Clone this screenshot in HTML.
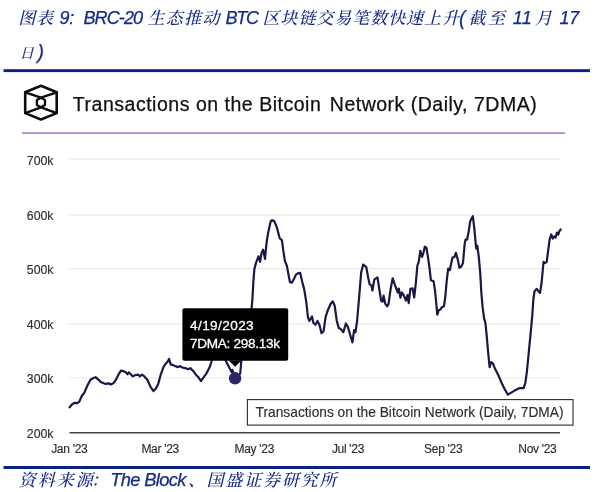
<!DOCTYPE html>
<html lang="zh">
<head>
<meta charset="utf-8">
<title>图表 9</title>
<style>
html,body{margin:0;padding:0;background:#fff;}
body{width:600px;height:492px;position:relative;overflow:hidden;font-family:"Liberation Sans","Noto Serif CJK SC",sans-serif;}
.c,.a{position:absolute;white-space:nowrap;color:#15298a;font-style:italic;height:34px;line-height:34px;}
.c{font-family:"Noto Serif CJK SC","Noto Sans CJK SC",serif;font-size:17.0px;font-weight:500;}
.a{font-family:"Liberation Sans",sans-serif;-webkit-text-stroke:0.25px #15298a;}
.rule{position:absolute;left:4px;width:586px;height:3px;background:#0c1a7c;}
svg{position:absolute;left:0;top:0;}
svg text{font-family:"Liberation Sans",sans-serif;}
</style>
</head>
<body>
<span class="c" style="left:18.2px;top:0px;letter-spacing:0.70px" id="s1">图表</span>
<span class="a" style="left:59.5px;top:0.5px;font-size:18px;letter-spacing:-0.3px" id="s2">9:</span>
<span class="a" style="left:83.5px;top:0.5px;font-size:18px;letter-spacing:-0.9px" id="s3">BRC-20</span>
<span class="c" style="left:147.4px;top:0px;letter-spacing:1.40px" id="s4">生态推动</span>
<span class="a" style="left:225.5px;top:0.5px;font-size:18px;letter-spacing:-1.2px" id="s5">BTC</span>
<span class="c" style="left:262.5px;top:0px;letter-spacing:0.95px" id="s6">区块链交易笔数快速上升</span>
<span class="a" style="left:459px;top:0.5px;font-size:19.5px;letter-spacing:0px" id="s7">(</span>
<span class="c" style="left:468.5px;top:0px;letter-spacing:2.50px" id="s8">截至</span>
<span class="a" style="left:512.7px;top:0.5px;font-size:18px;letter-spacing:0.5px" id="s9">11</span>
<span class="c" style="left:535px;top:0px;letter-spacing:2.00px" id="s10">月</span>
<span class="a" style="left:559.5px;top:0.5px;font-size:18px;letter-spacing:-0.3px" id="s11">17</span>
<span class="c" style="left:19.8px;top:35px;font-size:14px;letter-spacing:0.00px" id="s12">日</span>
<span class="a" style="left:37.5px;top:35.0px;font-size:19.5px;letter-spacing:0px" id="s13">)</span>

<svg width="600" height="492" viewBox="0 0 600 492">
  <rect x="3.5" y="69.2" width="586.5" height="2.9" fill="#0b2283"/>
  <rect x="3.5" y="466" width="586.5" height="3" fill="#0b2283"/>
  <!-- logo -->
  <g fill="none" stroke="#0d0d0d" stroke-width="2.6" stroke-linejoin="round" stroke-linecap="round">
    <polygon points="40.95,85.8 56.7,92.3 56.7,113.1 40.95,119.5 25.2,113.1 25.2,92.3"/>
    <polygon points="40.95,97.7 45,100.1 45,104.9 40.95,107.3 36.9,104.9 36.9,100.1" stroke-width="2.3"/>
    <path d="M25.2,92.3 L40.95,97.7 L56.7,92.3 M25.2,113.1 L40.95,107.3 L56.7,113.1" stroke-width="2.4"/>
  </g>
  <g font-size="19.5" fill="#111" stroke="#111" stroke-width="0.25"><text id="hd" x="72.8" y="110.7" letter-spacing="0.52">Transactions on the Bitcoin</text><text id="hd2" x="329.8" y="110.7" letter-spacing="0.5">Network (Daily, 7DMA)</text></g>
  <rect x="22" y="132.3" width="543" height="1.6" fill="#b377cf"/>
  <!-- grid -->
  <g stroke="#eaeaea" stroke-width="1.2">
    <line x1="69" x2="560" y1="158.8" y2="158.8"/>
    <line x1="69" x2="560" y1="214.9" y2="214.9"/>
    <line x1="69" x2="560" y1="268.6" y2="268.6"/>
    <line x1="69" x2="560" y1="323.9" y2="323.9"/>
    <line x1="69" x2="560" y1="378" y2="378"/>
  </g>
  <line x1="69.5" x2="560" y1="432.7" y2="432.7" stroke="#444" stroke-width="1.4"/>
  <g font-size="12.3" fill="#2e2e2e" stroke="#2e2e2e" stroke-width="0.15" text-anchor="end">
    <text x="53.5" y="165">700k</text>
    <text x="53.5" y="220">600k</text>
    <text x="53.5" y="273.7">500k</text>
    <text x="53.5" y="328.7">400k</text>
    <text x="53.5" y="383">300k</text>
    <text x="53.5" y="437.8">200k</text>
  </g>
  <g font-size="12" fill="#2e2e2e" stroke="#2e2e2e" stroke-width="0.15" text-anchor="middle" letter-spacing="-0.3">
    <text x="69.3" y="452.8">Jan '23</text>
    <text x="160.2" y="452.8">Mar '23</text>
    <text x="254.3" y="452.8">May '23</text>
    <text x="348" y="452.8">Jul '23</text>
    <text x="443.2" y="452.8">Sep '23</text>
    <text x="537.4" y="452.8">Nov '23</text>
  </g>
  <path d="M69.6,407.3 L72.2,404.2 L74.6,402.8 L77.3,403.2 L79.3,401.6 L82.0,395.5 L84.4,392.6 L87.5,385.3 L90.5,379.8 L93.0,378.2 L95.6,377.2 L98.6,379.8 L100.7,381.9 L103.7,383.3 L105.8,383.9 L108.8,383.3 L110.8,384.5 L113.3,383.3 L115.9,379.8 L118.4,374.7 L121.0,370.7 L124.0,371.3 L126.1,372.7 L127.5,374.3 L128.7,372.3 L130.8,374.3 L132.8,376.4 L135.2,375.1 L138.3,374.7 L139.7,376.4 L142.0,374.7 L144.4,376.4 L147.4,379.8 L150.5,386.9 L153.5,391.0 L155.6,389.0 L158.2,383.9 L160.7,374.7 L163.7,366.6 L165.8,363.6 L167.8,361.5 L169.0,358.9 L170.8,364.6 L172.0,364.7 L175.1,366.1 L178.1,367.1 L180.2,366.1 L182.2,367.5 L185.3,368.1 L188.3,369.2 L190.3,368.1 L193.4,371.2 L196.4,375.3 L198.5,377.3 L200.9,381.0 L203.6,377.3 L206.6,373.2 L209.7,367.1 L211.7,361.0 L214.0,352.0 L217.0,345.0 L220.0,349.0 L223.0,354.0 L226.0,361.2 L229.0,367.0 L231.7,372.2 L232.3,369.8 L233.5,373.0 L235.1,378.3 L238.5,376.0 L240.2,373.4 L241.2,361.8 L243.0,350.0 L246.0,338.0 L249.0,322.0 L251.4,310.0 L252.4,299.5 L253.4,281.2 L254.4,269.0 L256.0,262.9 L258.5,256.4 L260.1,261.9 L261.5,253.1 L263.1,249.7 L265.0,258.8 L266.6,242.5 L268.2,232.4 L270.7,221.2 L272.3,220.2 L274.3,221.2 L276.8,227.3 L279.8,238.5 L281.9,240.1 L283.3,250.7 L284.9,260.8 L286.9,265.9 L288.6,275.1 L290.0,282.2 L292.0,282.6 L294.1,278.7 L296.1,274.4 L298.1,273.3 L300.2,272.9 L302.2,281.8 L304.2,289.4 L306.3,302.0 L307.9,316.9 L309.3,321.0 L312.0,316.5 L313.4,323.0 L315.4,324.7 L317.5,321.0 L319.5,325.1 L321.5,333.2 L323.6,331.2 L325.6,316.9 L327.6,310.8 L330.7,303.7 L332.7,301.3 L334.7,305.8 L336.8,321.0 L338.8,328.1 L340.8,329.1 L343.3,332.2 L345.9,323.5 L348.0,327.1 L350.0,334.2 L352.4,342.4 L354.1,330.2 L355.5,332.2 L357.1,321.0 L359.2,296.6 L361.2,272.2 L363.2,264.5 L366.3,267.1 L368.3,278.3 L369.7,284.4 L371.4,285.4 L372.4,290.5 L374.4,279.3 L377.5,277.3 L379.5,290.5 L381.1,300.7 L382.5,301.7 L383.6,295.6 L385.2,303.7 L387.2,306.4 L388.6,303.7 L390.7,288.5 L392.7,278.3 L394.7,284.4 L397.8,292.5 L398.8,288.5 L400.4,297.6 L401.9,292.5 L403.9,295.6 L405.9,300.6 L407.5,295.0 L408.7,303.2 L410.4,288.8 L412.6,288.4 L414.2,297.5 L415.9,282.3 L417.3,266.0 L418.7,261.9 L420.3,250.8 L422.0,256.9 L423.4,252.8 L424.8,246.7 L426.4,247.7 L428.1,257.9 L429.5,268.0 L430.9,280.2 L433.6,281.3 L435.0,290.4 L436.3,304.0 L437.3,314.7 L438.7,310.3 L440.3,309.6 L442.0,307.2 L444.0,306.2 L445.2,297.5 L446.8,280.2 L448.2,268.5 L449.8,270.1 L451.3,263.0 L452.5,257.5 L454.5,256.9 L455.9,252.8 L457.6,258.9 L459.4,267.6 L461.0,267.0 L463.0,263.0 L464.7,243.6 L465.5,239.6 L467.1,239.6 L468.7,231.4 L470.2,221.3 L472.8,216.2 L474.2,227.4 L475.7,243.6 L476.3,248.7 L477.3,245.7 L478.9,257.9 L480.3,274.1 L481.3,292.0 L482.6,307.2 L484.1,318.4 L485.5,323.5 L486.7,335.7 L488.1,352.0 L489.6,367.2 L491.2,362.1 L492.8,363.1 L494.8,368.2 L496.9,372.3 L499.3,377.4 L501.4,382.5 L504.4,388.6 L507.9,394.7 L509.5,393.6 L514.6,390.6 L519.7,388.1 L523.7,388.1 L525.4,382.5 L526.8,372.3 L528.8,352.0 L530.8,331.6 L532.3,315.3 L533.3,300.0 L534.5,291.4 L536.5,288.8 L538.6,291.4 L540.0,292.9 L541.4,284.3 L542.6,272.1 L543.5,261.9 L545.1,263.0 L546.7,261.9 L548.1,250.8 L549.6,239.6 L551.2,234.5 L552.8,238.6 L554.2,236.5 L555.7,237.5 L556.9,232.5 L558.3,234.5 L559.3,231.4 L560.7,229.4" fill="none" stroke="#1b1646" stroke-width="2.2" stroke-linejoin="round" stroke-linecap="round"/>
  <circle cx="235.1" cy="378.3" r="6.2" fill="#2a2563"/>
  <!-- tooltip -->
  <rect x="182.4" y="308.2" width="105.8" height="52.6" rx="2" fill="#000"/>
  <path d="M228.7,360.5 L241.5,360.5 L235.1,366.8 Z" fill="#000"/>
  <text x="190" y="330" font-size="13.6" letter-spacing="0.4" fill="#fff" stroke="#fff" stroke-width="0.3">4/19/2023</text>
  <text x="190" y="347.8" font-size="13.6" letter-spacing="-0.3" fill="#fff" stroke="#fff" stroke-width="0.3">7DMA: 298.13k</text>
  <!-- legend -->
  <rect x="247.4" y="399.6" width="325.6" height="25.5" fill="#fff" stroke="#2a2a2a" stroke-width="1.1"/>
  <text id="lg" x="255.6" y="417" font-size="13.75" fill="#2e2e2e" stroke="#2e2e2e" stroke-width="0.15">Transactions on the Bitcoin Network (Daily, 7DMA)</text>
</svg>

<span class="c" style="left:18.8px;top:462.4px;letter-spacing:2.00px" id="r1">资料来源</span>
<span class="c" style="left:91px;top:462.4px;letter-spacing:2.00px" id="r1b">：</span>
<span class="a" style="left:110.3px;top:462.9px;font-size:18.3px;letter-spacing:-0.65px" id="r2">The Block</span>
<span class="c" style="left:188px;top:462.4px;letter-spacing:2.00px" id="r3">、</span>
<span class="c" style="left:206.5px;top:462.4px;letter-spacing:1.85px" id="r4">国盛证券研究所</span>
</body>
</html>
